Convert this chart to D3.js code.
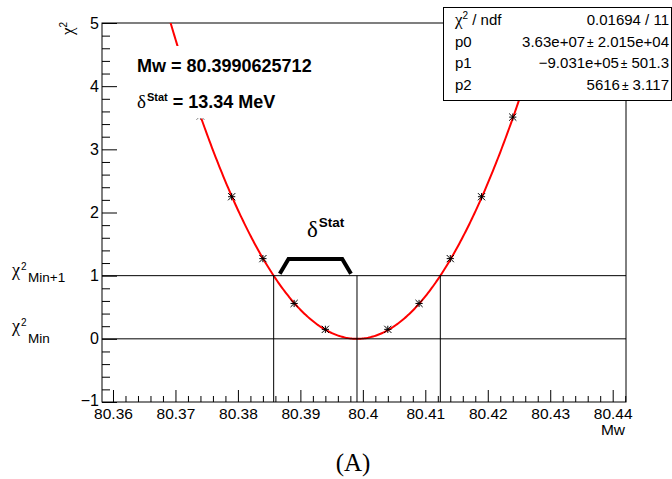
<!DOCTYPE html>
<html><head><meta charset="utf-8">
<script src="https://cdn.jsdelivr.net/npm/d3@7"></script>
<style>body{margin:0;background:#fff} svg{display:block}</style>
</head><body><svg id="c" width="672" height="479"></svg>
<script>
// ---- data ----
const massPoints = [80.374, 80.379, 80.384, 80.389, 80.394, 80.404, 80.409, 80.414, 80.419, 80.424];
const chi2Values = [3.53, 2.25, 1.27, 0.56, 0.15, 0.15, 0.56, 1.27, 2.25, 3.51];
const xTickValues = [80.36, 80.37, 80.38, 80.39, 80.40, 80.41, 80.42, 80.43, 80.44];
const xTickLabels = ["80.36", "80.37", "80.38", "80.39", "80.4", "80.41", "80.42", "80.43", "80.44"];
const yTickValues = [-1, 0, 1, 2, 3, 4, 5];
const yTickLabels = ["\u22121", "0", "1", "2", "3", "4", "5"];
const fitMw = 80.3990625712;     // best mass
const fitDelta = 0.01334;        // 13.34 MeV
const fitP2 = 5616;              // curvature (p2)
const fitChi2Min = 0;
const statNames = ["p0", "p1", "p2"];
const statValues = ["3.63e+07", "\u22129.031e+05", "5616"];
const statErrors = ["2.015e+04", "501.3", "3.117"];
const statChi2 = "0.01694 / 11";
const bracketX = [80.3867, 80.3881, 80.3967, 80.3981];
const bracketY = [1.03, 1.265, 1.265, 1.03];

const SANS = "'Liberation Sans', Arial, Helvetica, sans-serif";
const SERIF = "'Liberation Serif', 'Times New Roman', serif";

const svg = d3.select("#c");
const L = 102, R = 626, T = 23, B = 402;
const x = d3.scaleLinear().domain([80.35824, 80.44213]).range([L, R]);
const y = d3.scaleLinear().domain([-1, 5]).range([B, T]);

svg.append("rect").attr("width", 672).attr("height", 479).attr("fill", "#fff");

svg.append("defs").append("clipPath").attr("id", "clip")
  .append("rect").attr("x", L).attr("y", T).attr("width", R - L).attr("height", B - T);

// frame
svg.append("rect").attr("x", L).attr("y", T).attr("width", R - L).attr("height", B - T)
  .attr("fill", "none").attr("stroke", "#000").attr("stroke-width", 1);

// minor ticks
const xMinor = [];
xTickValues.forEach((v, i) => { for (let k = -4; k <= 4; k++) { const m = +(v + k * 0.002).toFixed(4); if (k !== 0 && m > x.domain()[0] && m < x.domain()[1] && !xMinor.includes(m)) xMinor.push(m); } });
const yMinor = [];
yTickValues.forEach(v => { for (let k = 1; k < 5; k++) { const m = v + k * 0.2; if (m < 5) yMinor.push(m); } });

const xAxis = svg.append("g").attr("transform", `translate(0,${B})`)
  .call(d3.axisBottom(x).tickValues(xTickValues).tickSizeInner(-12).tickSizeOuter(0).tickPadding(6)
    .tickFormat((d, i) => xTickLabels[i]));
svg.append("g").attr("transform", `translate(0,${B})`)
  .call(d3.axisBottom(x).tickValues(xMinor).tickSizeInner(-6).tickSizeOuter(0).tickFormat(""))
  .select(".domain").remove();
const yAxis = svg.append("g").attr("transform", `translate(${L},0)`)
  .call(d3.axisLeft(y).tickValues(yTickValues).tickSizeInner(-15).tickSizeOuter(0).tickPadding(3)
    .tickFormat((d, i) => yTickLabels[i]));
svg.append("g").attr("transform", `translate(${L},0)`)
  .call(d3.axisLeft(y).tickValues(yMinor).tickSizeInner(-8).tickSizeOuter(0).tickFormat(""))
  .select(".domain").remove();
svg.selectAll(".domain").remove();
svg.selectAll(".tick line").attr("stroke", "#000");
svg.selectAll(".tick text").attr("font-family", SANS).attr("font-size", 16).attr("fill", "#000");
xAxis.selectAll(".tick text").attr("font-size", 15.5);
yAxis.selectAll(".tick text").filter(d => d === -1).attr("dy", "0.2em");

// axis titles
svg.append("text").attr("x", 625).attr("y", 435).attr("text-anchor", "end")
  .attr("font-family", SANS).attr("font-size", 15.5).text("Mw");
const yt = svg.append("text").attr("transform", "translate(73,22) rotate(-90)").attr("text-anchor", "end");
yt.append("tspan").attr("font-family", SERIF).attr("font-size", 17).text("\u03c7");
yt.append("tspan").attr("font-family", SANS).attr("font-size", 10).attr("dy", -6).text("2");

// fit curve
const curveXs = d3.range(x.domain()[0], x.domain()[1], 0.0002);
const fitF = m => fitChi2Min + fitP2 * (m - fitMw) * (m - fitMw);
svg.append("path").attr("clip-path", "url(#clip)")
  .attr("d", d3.line().x(d => x(d)).y(d => y(fitF(d)))(curveXs))
  .attr("fill", "none").attr("stroke", "#ff0000").attr("stroke-width", 2);

// markers (asterisk)
const s = 3.6;
svg.append("g").attr("clip-path", "url(#clip)").selectAll("path").data(massPoints).join("path")
  .attr("transform", (d, i) => `translate(${x(d)},${y(chi2Values[i])})`)
  .attr("d", `M${-s},${-s}L${s},${s}M${-s},${s}L${s},${-s}M${-s},0L${s},0M0,${-s}L0,${s}`)
  .attr("stroke", "#000").attr("stroke-width", 1).attr("fill", "none");

// reference lines
const hLines = [0, 1];
svg.selectAll(".hl").data(hLines).join("line").attr("class", "hl")
  .attr("x1", L).attr("x2", R).attr("y1", d => y(d)).attr("y2", d => y(d))
  .attr("stroke", "#000").attr("stroke-width", 1);
const vLines = [fitMw - fitDelta, fitMw, fitMw + fitDelta];
svg.selectAll(".vl").data(vLines).join("line").attr("class", "vl")
  .attr("x1", d => x(d)).attr("x2", d => x(d)).attr("y1", y(-1)).attr("y2", y(1))
  .attr("stroke", "#000").attr("stroke-width", 1);

// bracket
svg.append("path")
  .attr("d", d3.line().x(d => x(d[0])).y(d => y(d[1]))(bracketX.map((v, i) => [v, bracketY[i]])))
  .attr("fill", "none").attr("stroke", "#000").attr("stroke-width", 4).attr("stroke-linejoin", "miter");
const dl = svg.append("text").attr("x", 307).attr("y", 237);
dl.append("tspan").attr("font-family", SERIF).attr("font-size", 23).text("\u03b4");
dl.append("tspan").attr("font-family", SANS).attr("font-weight", "bold").attr("font-size", 13.5).attr("dy", -10).attr("dx", 1).text("Stat");

// left labels
function chiLabel(xp, yb, sub, subDy) {
  const t = svg.append("text").attr("x", xp).attr("y", yb);
  t.append("tspan").attr("font-family", SERIF).attr("font-size", 18).text("\u03c7");
  t.append("tspan").attr("font-family", SANS).attr("font-size", 10).attr("dy", -6).attr("dx", 1).text("2");
  svg.append("text").attr("x", xp + 16).attr("y", yb + subDy).attr("font-family", SANS).attr("font-size", 13.5).text(sub);
}
chiLabel(12, 276, "Min+1", 6);
chiLabel(12, 332, "Min", 11);

// white text box with results
svg.append("rect").attr("x", 128).attr("y", 46).attr("width", 192).attr("height", 72.5).attr("fill", "#fff");
svg.append("text").attr("x", 137).attr("y", 72).attr("font-family", SANS).attr("font-weight", "bold")
  .attr("font-size", 18).text("Mw = " + fitMw.toFixed(10));
const dt = svg.append("text").attr("x", 137).attr("y", 108);
dt.append("tspan").attr("font-family", SERIF).attr("font-size", 19).text("\u03b4");
dt.append("tspan").attr("font-family", SANS).attr("font-weight", "bold").attr("font-size", 11).attr("dy", -7).attr("dx", 1).text("Stat");
dt.append("tspan").attr("font-family", SANS).attr("font-weight", "bold").attr("font-size", 18).attr("dy", 7).attr("dx", 5)
  .text("= " + (fitDelta * 1000).toFixed(2) + " MeV");

// stats box
svg.append("rect").attr("x", 443.5).attr("y", 7.5).attr("width", 228).attr("height", 93)
  .attr("fill", "#fff").attr("stroke", "#000").attr("stroke-width", 1);
const rowY = [25, 46.7, 68.3, 90];
const c0 = svg.append("text").attr("x", 455).attr("y", rowY[0]).attr("font-family", SANS).attr("font-size", 15);
c0.append("tspan").attr("font-family", SERIF).attr("font-size", 17).text("\u03c7");
c0.append("tspan").attr("font-size", 10).attr("dy", -6).text("2");
c0.append("tspan").attr("dy", 6).text(" / ndf");
svg.append("text").attr("x", 669).attr("y", rowY[0]).attr("text-anchor", "end")
  .attr("font-family", SANS).attr("font-size", 15).text(statChi2);
statNames.forEach((n, i) => {
  svg.append("text").attr("x", 455).attr("y", rowY[i + 1]).attr("font-family", SANS).attr("font-size", 15).text(n);
  const v = svg.append("text").attr("x", 669).attr("y", rowY[i + 1]).attr("text-anchor", "end")
    .attr("font-family", SANS).attr("font-size", 15);
  v.append("tspan").text(statValues[i]);
  v.append("tspan").attr("font-size", 12).attr("dx", 2).text("\u00b1");
  v.append("tspan").attr("dx", 4).text(statErrors[i]);
});

// caption
svg.append("text").attr("x", 353).attr("y", 471).attr("text-anchor", "middle")
  .attr("font-family", SERIF).attr("font-size", 25).text("(A)");
</script></body></html>
